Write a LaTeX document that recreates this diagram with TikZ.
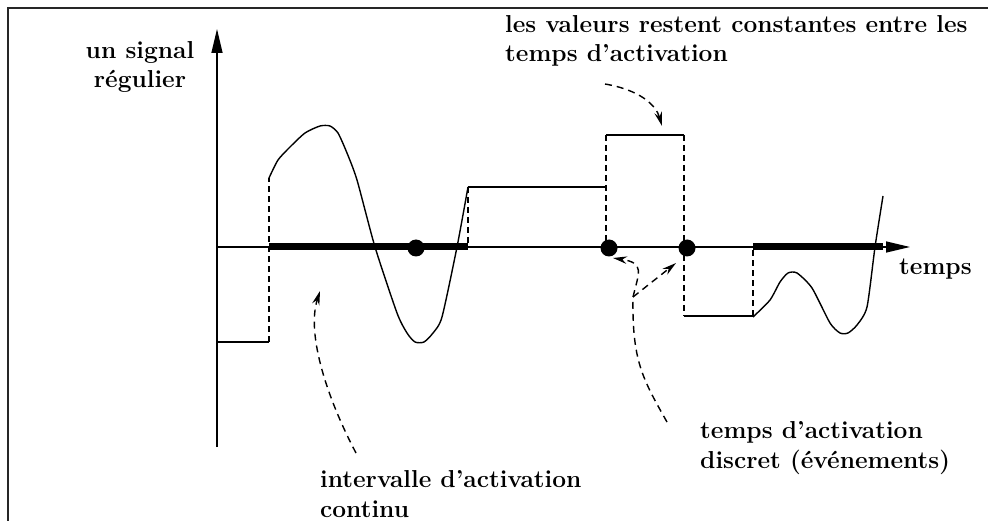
\documentclass[tikz,border=0pt]{standalone}
\usetikzlibrary{arrows.meta}
\begin{document}
\begin{tikzpicture}[x=1pt,y=-1pt,
  lbl/.style={font=\fontsize{24.5}{29.5}\selectfont\bfseries, inner sep=0pt, align=left},
  sig/.style={line width=1.4pt, line join=round},
  jump/.style={line width=1.4pt, dash pattern=on 6pt off 4pt},
  ann/.style={line width=1.4pt, dash pattern=on 7pt off 5pt, -{Stealth[length=14pt,width=7.5pt]}},
  axisline/.style={line width=1.4pt, -{Triangle[length=24pt,width=11pt]}},
  active/.style={line width=7pt},
  evt/.style={circle, fill, inner sep=0pt, minimum size=17pt}]
\useasboundingbox (0,0) rectangle (988,521);
\draw[line width=2.5pt, black!85] (8,530) -- (8,8) -- (995,8);
% axes
\coordinate (ybot) at (217,447);
\coordinate (ytop) at (217,29);
\coordinate (O) at (217,247);
\coordinate (xend) at (910,247);
\draw[axisline] (ybot) -- (ytop);
\draw[axisline] (O) -- (xend);
% active intervals
\draw[active] (269,247) -- (468,247);
\draw[active] (753,247) -- (883,247);
% signal
\draw[sig] (217,342) -- (269,342);
\draw[jump] (269,342) -- (269,178);
\draw[sig] plot[smooth, tension=0.4] coordinates {(269,178) (278,160) (290,147) (305,133) (320,126) (330,126) (338,133) (347,153) (357,180) (375,247) (397,313) (407,333) (415,342) (424,342) (433,333) (442,317) (457,247) (468,187)};
\draw[jump] (468,187) -- (468,247);
\draw[sig] (468,187) -- (606,187);
\draw[jump] (606,135) -- (606,247);
\draw[sig] (606,135) -- (684,135);
\draw[jump] (684,135) -- (684,316);
\draw[sig] (684,316) -- (753,316);
\draw[jump] (753,316) -- (753,247);
\draw[sig] plot[smooth, tension=0.4] coordinates {(753,317) (770,300) (780,282) (788,273) (797,273) (812,288) (830,323) (840,333) (848,333) (857,325) (867,307) (875,247) (883,196)};
% events
\node[evt] (e1) at (416,248) {};
\node[evt] (e2) at (609,248) {};
\node[evt] (e3) at (687,248) {};
% labels (base anchor = baseline of the last line)
\node[lbl, anchor=base, align=center] (ylab) at (140,88) {un signal\\régulier};
\node[lbl, anchor=base west] (toplab) at (505,62) {les valeurs restent constantes entre les\\temps d'activation};
\node[lbl, anchor=base west] (xlab) at (899,275) {temps};
\node[lbl, anchor=base west] (disc) at (700,468) {temps d'activation\\discret (événements)};
\node[lbl, anchor=base west] (cont) at (320,517) {intervalle d'activation\\continu};
% annotation connectors
\coordinate (s1) at (605,84);
\coordinate (t1) at (662,126);
\draw[ann] (s1) .. controls (640,90) and (656,105) .. (t1);
\coordinate (s2) at (356,453);
\coordinate (t2) at (320,291);
\draw[ann] (s2) .. controls (328,400) and (306,335) .. (t2);
\coordinate (s3) at (667,422);
\coordinate (fork) at (633,297);
\coordinate (t3) at (613,258);
\coordinate (t4) at (676,263);
\draw[line width=1.4pt, dash pattern=on 7pt off 5pt] (s3) .. controls (642,378) and (632,360) .. (fork);
\draw[ann] (fork) .. controls (639,272) and (645,263) .. (t3);
\draw[ann] (fork) -- (t4);
\end{tikzpicture}
\end{document}
